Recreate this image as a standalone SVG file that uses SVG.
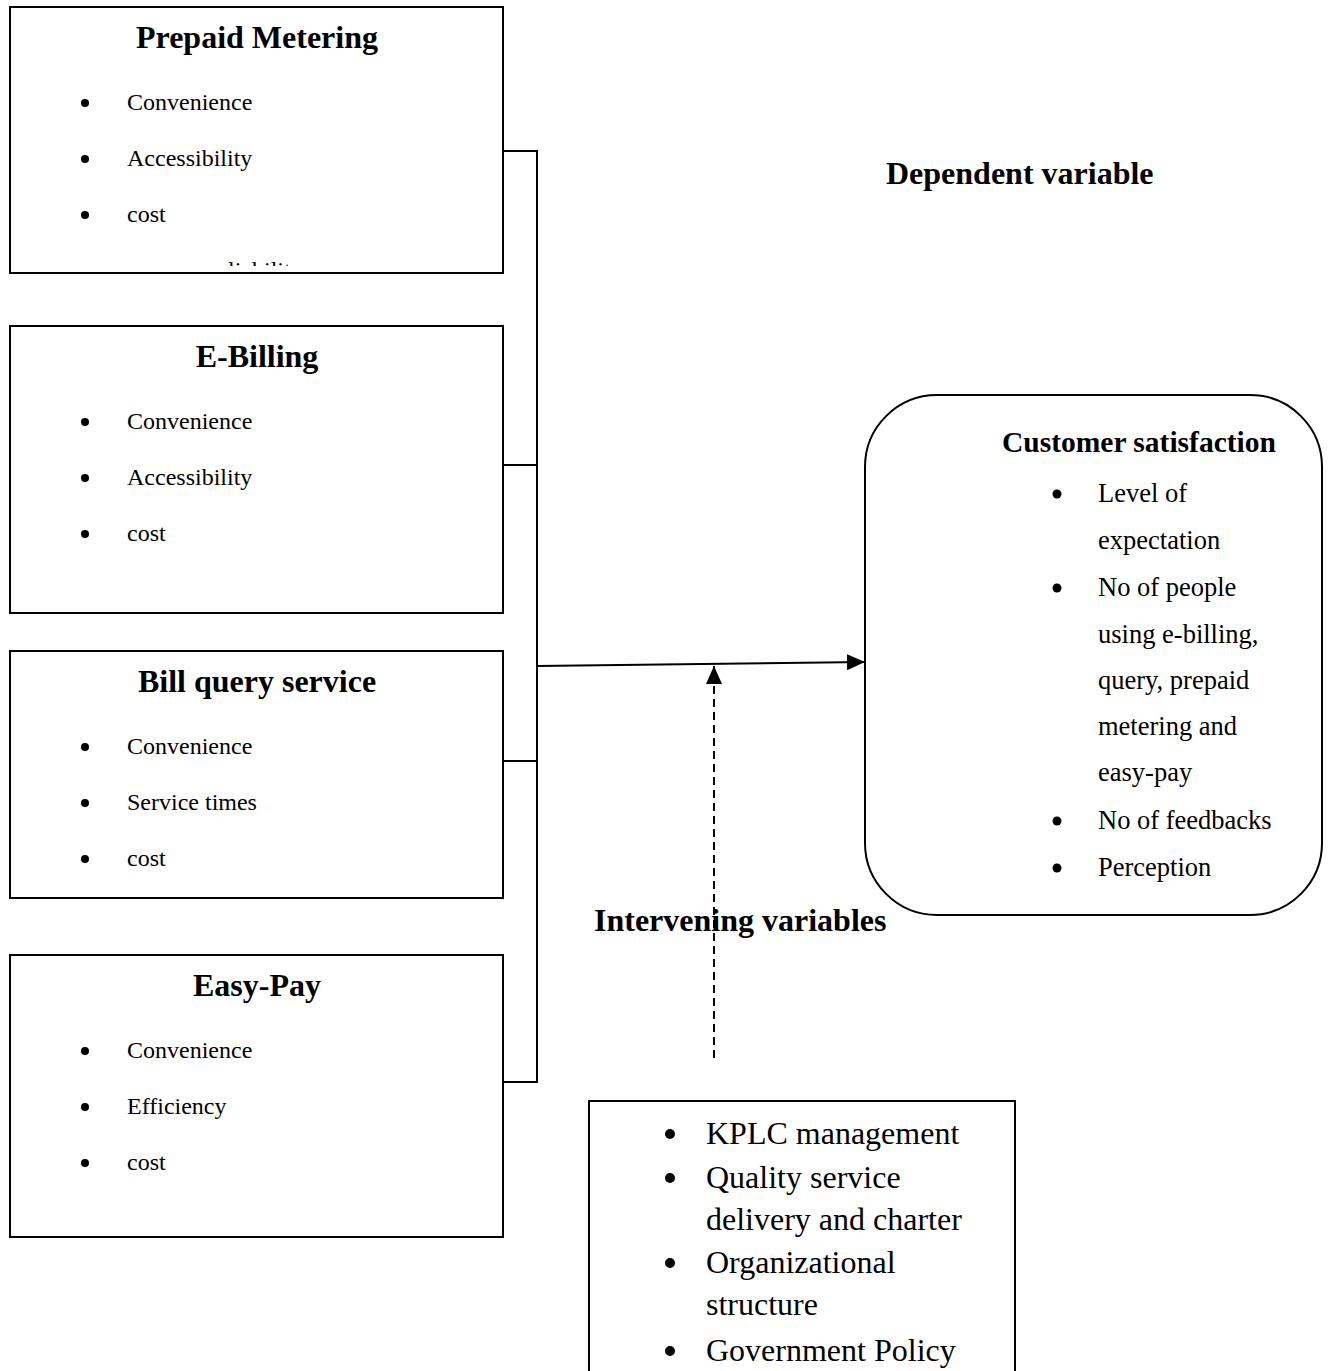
<svg xmlns="http://www.w3.org/2000/svg" width="1330" height="1371" viewBox="0 0 1330 1371">
<style>
.box{fill:#fff;stroke:#000;stroke-width:2}
.title{font-family:"Liberation Serif","Times New Roman",serif;font-weight:bold;font-size:32px;text-anchor:middle}
.item{font-family:"Liberation Serif","Times New Roman",serif;font-size:24px}
.ctitle{font-family:"Liberation Serif","Times New Roman",serif;font-weight:bold;font-size:29.5px}
.citem{font-family:"Liberation Serif","Times New Roman",serif;font-size:26.5px}
.label{font-family:"Liberation Serif","Times New Roman",serif;font-weight:bold;font-size:32px}
.bitem{font-family:"Liberation Serif","Times New Roman",serif;font-size:32px}
.line{stroke:#000;stroke-width:2;fill:none}
</style>
<defs>
<marker id="arrB" markerWidth="18" markerHeight="16" refX="18" refY="8" orient="auto" markerUnits="userSpaceOnUse">
<path d="M0,0 L18,8 L0,16 z" fill="#000"/>
</marker>
<clipPath id="clip1"><rect x="10" y="255" width="493" height="11"/></clipPath>
</defs>
<rect width="1330" height="1371" fill="#fff"/>

<g id="connectors">
<polyline class="line" points="503,151 537,151 537,1082 503,1082"/>
<line class="line" x1="503" y1="465" x2="537" y2="465"/>
<line class="line" x1="503" y1="761" x2="537" y2="761"/>
<line class="line" x1="537" y1="666" x2="865" y2="662" stroke-width="3" marker-end="url(#arrB)"/>
<line class="line" x1="714" y1="1058" x2="714" y2="666" stroke-width="2.5" stroke-dasharray="8,5" marker-end="url(#arrB)"/>
</g>

<g id="prepaid">
<rect class="box" x="10" y="7" width="493" height="266"/>
<text class="title" x="257" y="48">Prepaid Metering</text>
<circle cx="85" cy="103" r="4"/><text class="item" x="127" y="110">Convenience</text>
<circle cx="85" cy="159" r="4"/><text class="item" x="127" y="166">Accessibility</text>
<circle cx="85" cy="215" r="4"/><text class="item" x="127" y="222">cost</text>
<text class="item" x="256" y="278" text-anchor="middle" clip-path="url(#clip1)">reliability</text>
</g>

<g id="ebilling">
<rect class="box" x="10" y="326" width="493" height="287"/>
<text class="title" x="257" y="367">E-Billing</text>
<circle cx="85" cy="422" r="4"/><text class="item" x="127" y="429">Convenience</text>
<circle cx="85" cy="478" r="4"/><text class="item" x="127" y="485">Accessibility</text>
<circle cx="85" cy="534" r="4"/><text class="item" x="127" y="541">cost</text>
</g>

<g id="billquery">
<rect class="box" x="10" y="651" width="493" height="247"/>
<text class="title" x="257" y="692">Bill query service</text>
<circle cx="85" cy="747" r="4"/><text class="item" x="127" y="754">Convenience</text>
<circle cx="85" cy="803" r="4"/><text class="item" x="127" y="810">Service times</text>
<circle cx="85" cy="859" r="4"/><text class="item" x="127" y="866">cost</text>
</g>

<g id="easypay">
<rect class="box" x="10" y="955" width="493" height="282"/>
<text class="title" x="257" y="996">Easy-Pay</text>
<circle cx="85" cy="1051" r="4"/><text class="item" x="127" y="1058">Convenience</text>
<circle cx="85" cy="1107" r="4"/><text class="item" x="127" y="1114">Efficiency</text>
<circle cx="85" cy="1163" r="4"/><text class="item" x="127" y="1170">cost</text>
</g>

<g id="dependent-label">
<text class="label" x="886" y="184">Dependent variable</text>
</g>

<g id="customer">
<rect class="box" x="865" y="395" width="457" height="520" rx="72" ry="72"/>
<text class="ctitle" x="1002" y="452">Customer satisfaction</text>
<circle cx="1057" cy="494" r="4.5"/><text class="citem" x="1098" y="502">Level of</text>
<text class="citem" x="1098" y="549">expectation</text>
<circle cx="1057" cy="588" r="4.5"/><text class="citem" x="1098" y="596">No of people</text>
<text class="citem" x="1098" y="643">using e-billing,</text>
<text class="citem" x="1098" y="689">query, prepaid</text>
<text class="citem" x="1098" y="735">metering and</text>
<text class="citem" x="1098" y="781">easy-pay</text>
<circle cx="1057" cy="821" r="4.5"/><text class="citem" x="1098" y="829">No of feedbacks</text>
<circle cx="1057" cy="868" r="4.5"/><text class="citem" x="1098" y="876">Perception</text>
</g>

<g id="intervening-label">
<text class="label" x="594" y="931">Intervening variables</text>
</g>

<g id="intervening">
<rect class="box" x="589" y="1101" width="426" height="290"/>
<circle cx="670" cy="1134" r="5"/><text class="bitem" x="706" y="1144">KPLC management</text>
<circle cx="670" cy="1178" r="5"/><text class="bitem" x="706" y="1188">Quality service</text>
<text class="bitem" x="706" y="1230">delivery and charter</text>
<circle cx="670" cy="1263" r="5"/><text class="bitem" x="706" y="1273">Organizational</text>
<text class="bitem" x="706" y="1315">structure</text>
<circle cx="670" cy="1351" r="5"/><text class="bitem" x="706" y="1361">Government Policy</text>
</g>
</svg>
